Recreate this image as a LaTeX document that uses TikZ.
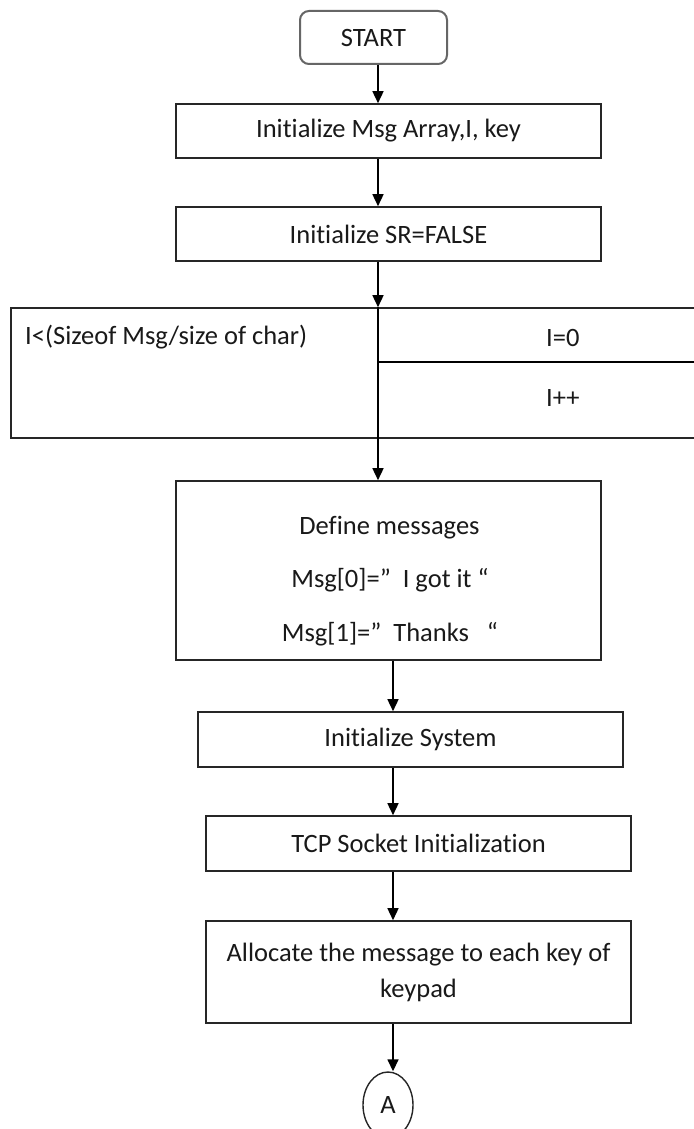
\documentclass[tikz,border=0pt]{standalone}
\usepackage{fontspec}
\setmainfont{Carlito}[Ligatures=NoCommon]
\usetikzlibrary{arrows.meta,shapes.geometric}
\begin{document}
\begin{tikzpicture}[x=1pt,y=-1pt,
  every node/.style={font=\fontsize{26.5}{36}\selectfont, text=black!90},
  box/.style={draw=black!85, line width=1.6pt, inner sep=0pt, align=center},
  startbox/.style={draw=black!60, line width=2pt, rounded corners=9pt, inner sep=0pt},
  arr/.style={line width=1.5pt, -{Triangle[length=12pt,width=11pt]}},
  plain/.style={line width=1.5pt},
  lbl/.style={inner sep=0pt, anchor=west}]
\useasboundingbox[fill=white] (0,0) rectangle (693,1129);

% vertical spines used by the connectors
\coordinate (s1) at (378,0);
\coordinate (s2) at (393,0);

% process boxes
\node[startbox, minimum width=147pt, minimum height=53pt] (start) at (373.5,37.5) {START};
\node[box, minimum width=425pt, minimum height=54pt] (init) at (388.5,131) {Initialize Msg Array,I, key};
\node[box, minimum width=425pt, minimum height=54pt] (sr) at (388.5,234) {Initialize SR=FALSE};

% loop header
\node[box, minimum width=700pt, minimum height=130pt] (loop) at (361,373) {};
\coordinate (div) at (378,362);
\node[lbl] (cond) at (25,337) {I<(Sizeof Msg/size of char)};
\node[lbl] (iinit) at (546,338) {I=0};
\node[lbl] (iinc) at (546,398) {I++};

\node[box, minimum width=425pt, minimum height=179pt] (define) at (388.5,570.5) {};
\node (d1) at (389.5,528) {Define messages};
\node (d2) at (390,580) {Msg[0]=”\ \ I got it “};
\node (d3) at (390,634) {Msg[1]=”\ \ Thanks\ \ \ “};

\node[box, minimum width=425pt, minimum height=55pt] (sys) at (410.5,739.5) {Initialize System};
\node[box, minimum width=425pt, minimum height=55pt] (tcp) at (418.5,843.5) {TCP Socket Initialization};
\node[box, minimum width=425pt, minimum height=102pt, align=center] (alloc) at (418.5,972)
  {Allocate the message to each key of\\keypad};

\node[draw=black!85, line width=1.4pt, ellipse, minimum width=50pt, minimum height=66pt, inner sep=0pt] (conA) at (388,1105) {A};

% connectors
\draw[arr] (start.south -| s1) -- (init.north -| s1);
\draw[arr] (init.south -| s1) -- (sr.north -| s1);
\draw[arr] (sr.south -| s1) -- (loop.north -| s1);
\draw[arr] (loop.north -| s1) -- (define.north -| s1);
\draw[plain] (div) -- (div -| loop.east);
\draw[arr] (define.south -| s2) -- (sys.north -| s2);
\draw[arr] (sys.south -| s2) -- (tcp.north -| s2);
\draw[arr] (tcp.south -| s2) -- (alloc.north -| s2);
\draw[arr] (alloc.south -| s2) -- (conA.north -| s2);
\end{tikzpicture}
\end{document}
